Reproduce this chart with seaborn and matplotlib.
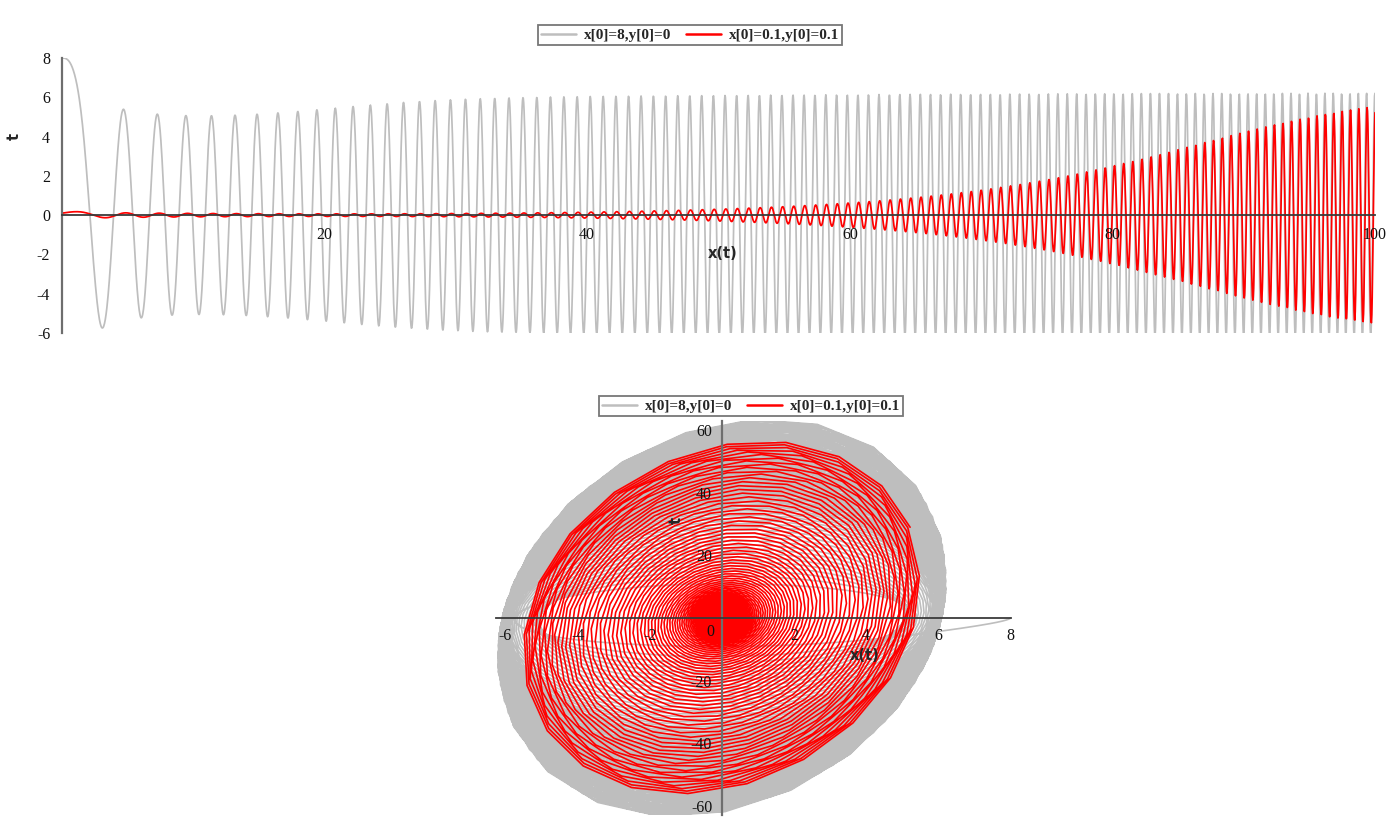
import numpy as np
import pandas as pd
import matplotlib
matplotlib.use("Agg")
import matplotlib.pyplot as plt
import seaborn as sns
from matplotlib.lines import Line2D

# initial conditions, as given in the legends
labels = ["x[0]=8,y[0]=0", "x[0]=0.1,y[0]=0.1"]
x_start = [8.0, 0.1]
y_start = [0.0, 0.1]
colors = ["#bebebe", "#ff0000"]

# oscillator x'' = (p + q x^2 + s x^4) x' - t x
# coefficients drift from an early set to a late (van der Pol) set,
# values chosen to follow the envelopes of the reference curves
t_end = 100.0
p_coef = [-0.04, 0.155]
q_coef = [0.0234, -0.0155]
s_coef = [-0.00077, 0.0]
t_switch = 24.0
tilt = 0.02          # phase variable y = x' + tilt*t*x
n_points = 3400


def rhs(t, x, v):
    r = t ** 6 / (t ** 6 + t_switch ** 6)
    p = p_coef[0] + (p_coef[1] - p_coef[0]) * r
    q = q_coef[0] + (q_coef[1] - q_coef[0]) * r
    s = s_coef[0] + (s_coef[1] - s_coef[0]) * r
    x2 = x * x
    return v, (p + q * x2 + s * x2 * x2) * v - t * x


def simulate():
    h = 0.002
    n = int(round(t_end / h))
    every = int(round(t_end / n_points / h))
    x = np.array(x_start)
    v = np.array(y_start)
    ts, xs, vs = [0.0], [x.copy()], [v.copy()]
    t = 0.0
    for i in range(1, n + 1):
        k1x, k1v = rhs(t, x, v)
        k2x, k2v = rhs(t + h / 2, x + h / 2 * k1x, v + h / 2 * k1v)
        k3x, k3v = rhs(t + h / 2, x + h / 2 * k2x, v + h / 2 * k2v)
        k4x, k4v = rhs(t + h, x + h * k3x, v + h * k3v)
        x = x + h / 6 * (k1x + 2 * k2x + 2 * k3x + k4x)
        v = v + h / 6 * (k1v + 2 * k2v + 2 * k3v + k4v)
        t = i * h
        if i % every == 0:
            ts.append(t)
            xs.append(x.copy())
            vs.append(v.copy())
    return np.array(ts), np.array(xs), np.array(vs)


ts, xs, vs = simulate()
frames = []
for k, lab in enumerate(labels):
    frames.append(pd.DataFrame({
        "t": ts,
        "x": xs[:, k],
        "y": vs[:, k] + tilt * ts * xs[:, k],
        "label": lab,
    }))
df = pd.concat(frames, ignore_index=True)

sns.set_style("white")
plt.rcParams["font.family"] = ["Liberation Serif", "DejaVu Serif"]
plt.rcParams["axes.unicode_minus"] = False
plt.rcParams["axes.axisbelow"] = False
palette = dict(zip(labels, colors))

fig = plt.figure(figsize=(13.87, 8.24), dpi=100)
ax1 = fig.add_axes([0.0447, 0.5959, 0.9467, 0.3337])
ax2 = fig.add_axes([0.3579, 0.0104, 0.3707, 0.4791])

sns.lineplot(data=df, x="t", y="x", hue="label", palette=palette, hue_order=labels,
             estimator=None, sort=False, linewidth=1.25, legend=False, ax=ax1)
sns.lineplot(data=df, x="x", y="y", hue="label", palette=palette, hue_order=labels,
             estimator=None, sort=False, linewidth=1.2, legend=False, ax=ax2)


def style_axes(ax, xmaj, xmin, ymaj, ymin, pad):
    ax.set_axisbelow(False)
    for s in ["top", "right"]:
        ax.spines[s].set_visible(False)
    ax.spines["left"].set_position(("data", 0))
    ax.spines["bottom"].set_position(("data", 0))
    ax.spines["left"].set_color("#6e6e6e")
    ax.spines["left"].set_linewidth(1.6)
    ax.spines["bottom"].set_color("#3a3a3a")
    ax.spines["bottom"].set_linewidth(1.3)
    for s in ax.spines.values():
        s.set_zorder(5)
    ax.set_xticks(xmaj)
    ax.set_xticks(xmin, minor=True)
    ax.set_yticks(ymaj)
    ax.set_yticks(ymin, minor=True)
    ax.tick_params(which="major", direction="out", length=5.5, width=1.2,
                   color="#555555", labelsize=11.5, labelcolor="#111111", pad=pad)
    ax.tick_params(which="minor", direction="out", length=3, width=1.2, color="#555555")
    ax.set_xlabel("")
    ax.set_ylabel("")
    ax.patch.set_alpha(0)


ax1.set_xlim(0, 100)
ax1.set_ylim(-6, 8)
style_axes(ax1, [20, 40, 60, 80, 100], [10, 30, 50, 70, 90],
           [-6, -4, -2, 0, 2, 4, 6, 8], [-5, -3, -1, 1, 3, 5, 7], 3)
ax1.text(50.3, -1.95, "x(t)", ha="center", va="center", fontsize=10.5,
         fontweight="bold", family="DejaVu Sans", zorder=6)
ax1.text(-3.65, 4.0, "t", ha="center", va="center", rotation=90, fontsize=10.5,
         fontweight="bold", family="DejaVu Sans", zorder=6)

ax2.set_xlim(-6.25, 8.0)
ax2.set_ylim(-63, 63)
style_axes(ax2, [-6, -4, -2, 2, 4, 6, 8], [-5, -3, -1, 1, 3, 5, 7],
           [-60, -40, -20, 20, 40, 60], [-50, -30, -10, 10, 30, 50], 1.5)
ax2.text(-0.2, -2.0, "0", ha="right", va="top", fontsize=11.5, color="#111111", zorder=6)
ax2.text(3.96, -12.0, "x(t)", ha="center", va="center", fontsize=10.5,
         fontweight="bold", family="DejaVu Sans", zorder=6)
ax2.text(-1.27, 31.3, "t", ha="center", va="center", rotation=90, fontsize=10.5,
         fontweight="bold", family="DejaVu Sans", zorder=6)

handles = [Line2D([], [], color=c, linewidth=1.8) for c in colors]
for anchor in [(690 / 1387, 1 - 35 / 824), (751 / 1387, 1 - 406 / 824)]:
    leg = fig.legend(handles, labels, loc="center", bbox_to_anchor=anchor, ncol=2,
                     frameon=True, fancybox=False, handlelength=2.3,
                     handletextpad=0.5, columnspacing=1.0, borderpad=0.2,
                     prop={"weight": "bold", "size": 11})
    leg.get_frame().set_edgecolor("#555555")
    leg.get_frame().set_linewidth(1.3)

fig.savefig("out.png", dpi=100)
